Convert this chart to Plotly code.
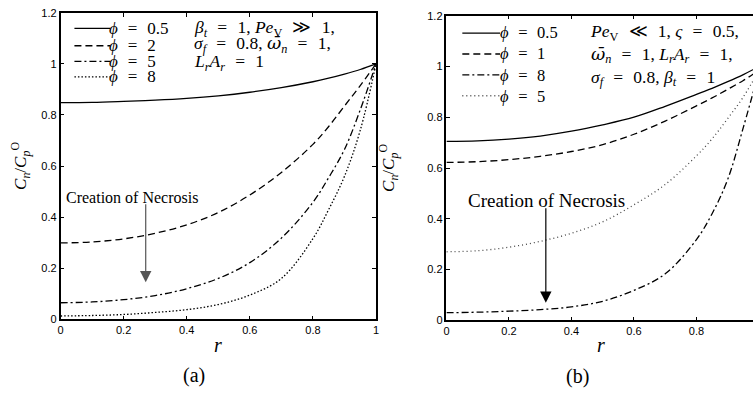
import plotly.graph_objects as go

# ---------------- data ----------------
r_a = [0.0, 0.1, 0.2, 0.3, 0.4, 0.5, 0.6, 0.7, 0.8, 0.85, 0.9, 0.95, 1.0]
a_phi05 = [0.848, 0.849, 0.853, 0.858, 0.865, 0.875, 0.889, 0.907, 0.930, 0.944, 0.960, 0.978, 1.0]
a_phi2 = [0.299, 0.303, 0.315, 0.337, 0.370, 0.418, 0.487, 0.575, 0.685, 0.755, 0.835, 0.915, 1.0]
a_phi5 = [0.065, 0.068, 0.077, 0.093, 0.120, 0.160, 0.222, 0.318, 0.458, 0.555, 0.665, 0.820, 1.0]
a_phi8 = [0.013, 0.015, 0.019, 0.027, 0.038, 0.058, 0.095, 0.160, 0.316, 0.430, 0.560, 0.740, 1.0]

r_b = [0.0, 0.1, 0.2, 0.3, 0.4, 0.5, 0.6, 0.7, 0.8, 0.85, 0.9, 0.95, 1.0]
b_phi05 = [0.705, 0.707, 0.714, 0.726, 0.745, 0.770, 0.800, 0.843, 0.890, 0.914, 0.940, 0.968, 1.0]
b_phi1 = [0.622, 0.625, 0.633, 0.646, 0.665, 0.692, 0.733, 0.785, 0.845, 0.876, 0.910, 0.945, 0.985]
b_phi8 = [0.030, 0.032, 0.036, 0.042, 0.053, 0.075, 0.118, 0.183, 0.318, 0.420, 0.555, 0.760, 0.980]
b_phi5 = [0.270, 0.274, 0.288, 0.311, 0.343, 0.388, 0.455, 0.535, 0.648, 0.715, 0.795, 0.880, 0.985]

x_ticks = [0, 0.2, 0.4, 0.6, 0.8, 1]
x_tick_text = ["0", "0.2", "0.4", "0.6", "0.8", "1"]
y_ticks = [0, 0.2, 0.4, 0.6, 0.8, 1, 1.2]
y_tick_text = ["0", "0.2", "0.4", "0.6", "0.8", "1", "1.2"]

E = "\u2002\u200a"  # wide math-style spacing around relations
legend_a = [f"<i>ϕ</i>{E}={E}0.5", f"<i>ϕ</i>{E}={E}2", f"<i>ϕ</i>{E}={E}5", f"<i>ϕ</i>{E}={E}8"]
legend_b = [f"<i>ϕ</i>{E}={E}0.5", f"<i>ϕ</i>{E}={E}1", f"<i>ϕ</i>{E}={E}8", f"<i>ϕ</i>{E}={E}5"]

W, H = 756, 401
SERIF = "Liberation Serif"
SANS = "Liberation Sans"

DASH = "7px,4px"
DASHDOT = "7px,3px,2px,3px"
DOT_A = "1.5px,2px"
DOT_B = "1px,3px"

fig = go.Figure()

series_a = [(a_phi05, "solid", "black"), (a_phi2, DASH, "black"),
            (a_phi5, DASHDOT, "black"), (a_phi8, DOT_A, "black")]
series_b = [(b_phi05, "solid", "black"), (b_phi1, DASH, "black"),
            (b_phi8, DASHDOT, "black"), (b_phi5, DOT_B, "#444444")]

for (ys, dash, col), name in zip(series_a, legend_a):
    fig.add_trace(go.Scatter(x=r_a, y=ys, mode="lines", name=name, showlegend=False,
                             line=dict(color=col, width=1.3, dash=dash, shape="spline"),
                             xaxis="x", yaxis="y"))
for (ys, dash, col), name in zip(series_b, legend_b):
    fig.add_trace(go.Scatter(x=r_b, y=ys, mode="lines", name=name, showlegend=False,
                             line=dict(color=col, width=1.3, dash=dash, shape="spline"),
                             xaxis="x2", yaxis="y2"))

def px(xp):
    return xp / W

def py(yp):
    return 1 - yp / H

axis_common = dict(showgrid=False, zeroline=False, ticks="inside", ticklen=4,
                   tickcolor="black", tickwidth=1, linecolor="black", linewidth=1.5,
                   showline=True, tickfont=dict(family=SANS, size=11, color="black"))

fig.update_layout(
    width=W, height=H, margin=dict(l=0, r=0, t=0, b=0),
    paper_bgcolor="white", plot_bgcolor="white", showlegend=False,
    xaxis=dict(domain=[px(58), px(376)], range=[0, 1], tickvals=x_ticks,
               ticktext=x_tick_text, mirror="ticks", anchor="y", **axis_common),
    yaxis=dict(domain=[py(323), py(7)], range=[0, 1.2], tickvals=y_ticks,
               ticktext=y_tick_text, mirror="ticks", anchor="x", **axis_common),
    xaxis2=dict(domain=[px(447), 1.0], range=[0, (W - 447) / 315], tickvals=x_ticks,
                ticktext=x_tick_text, mirror="ticks", anchor="y2", **axis_common),
    yaxis2=dict(domain=[py(324), py(10)], range=[0, 1.2], tickvals=y_ticks,
                ticktext=y_tick_text, mirror=False, anchor="x2", **axis_common),
)

shapes = []
annotations = []

def text(xp, yp, t, size, anchor="left"):
    annotations.append(dict(xref="paper", yref="paper", x=px(xp), y=py(yp),
                            xanchor=anchor, yanchor="middle", align="left", text=t,
                            showarrow=False, borderpad=0,
                            font=dict(family=SERIF, size=size, color="black")))

def legend_lines(rows, x0, x1, dashes, colors):
    for yrow, dash, col in zip(rows, dashes, colors):
        shapes.append(dict(type="line", xref="paper", yref="paper",
                           x0=px(x0), x1=px(x1), y0=py(yrow), y1=py(yrow),
                           line=dict(color=col, width=1.3, dash=dash)))

# legend (a): tight rows, separate texts
rows_a = [23, 41, 57, 73]
legend_lines(rows_a, 72, 108, [s[1] for s in series_a], [s[2] for s in series_a])
for yrow, label in zip(rows_a, legend_a):
    text(106, yrow, label, 17)

# legend (b): one multi-line text block
rows_b = [28, 49.5, 71, 92.5]
legend_lines(rows_b, 463, 501, [s[1] for s in series_b], [s[2] for s in series_b])
text(500, 60.5, "<br>".join(legend_b), 16.5)

OM = "<span style='font-family:DejaVu Serif'>ω\u0304</span>"
# parameter text (a)
text(192, 23, f"<i>β<sub>t</sub></i>{E}={E}1, <i>Pe</i><sub>V</sub>{E}≫{E}1,", 17.5)
text(192, 40, f"<i>σ<sub>f</sub></i>{E}={E}0.8, <i>{OM}<sub>n</sub></i>{E}={E}1,", 17.5)
text(192, 58, f"<i>L<sub>r</sub>A<sub>r</sub></i>{E}={E}1", 17.5)
# parameter text (b): one multi-line block
params_b = [f"<i>Pe</i><sub>V</sub>{E}≪{E}1, <i>ς</i>{E}={E}0.5,",
            f"<i>{OM}<sub>n</sub></i>{E}={E}1, <i>L<sub>r</sub>A<sub>r</sub></i>{E}={E}1,",
            f"<i>σ<sub>f</sub></i>{E}={E}0.8, <i>β<sub>t</sub></i>{E}={E}1"]
text(591, 50.5, "<br>".join(params_b), 17.5)

# Creation of Necrosis
text(62, 197, "Creation of Necrosis", 16)
text(468, 200, "Creation of Necrosis", 19)
annotations.append(dict(xref="x", yref="y", axref="x", ayref="y", x=0.27, y=0.145,
                        ax=0.27, ay=0.456, text="", showarrow=True, arrowhead=2,
                        arrowsize=1.9, arrowwidth=1.2, arrowcolor="#555555"))
annotations.append(dict(xref="x2", yref="y2", axref="x2", ayref="y2", x=0.318, y=0.069,
                        ax=0.318, ay=0.447, text="", showarrow=True, arrowhead=2,
                        arrowsize=1.9, arrowwidth=1.2, arrowcolor="black"))

# axis titles
text(217, 349, "<i>r</i>", 20, "center")
text(603, 349, "<i>r</i>", 20, "center")
for xp, yp in [(17, 165), (388, 167)]:
    annotations.append(dict(xref="paper", yref="paper", x=px(xp), y=py(yp),
                            xanchor="center", yanchor="middle", textangle=-90,
                            text="<i>C<sub>n</sub></i>/<i>C<sub>p</sub></i><sup>O</sup>",
                            showarrow=False, borderpad=0,
                            font=dict(family=SERIF, size=17, color="black")))

# panel labels
text(193, 381, "(a)", 20, "center")
text(579, 382, "(b)", 20, "center")

fig.update_layout(shapes=shapes, annotations=annotations)
fig.write_html("out.html")
